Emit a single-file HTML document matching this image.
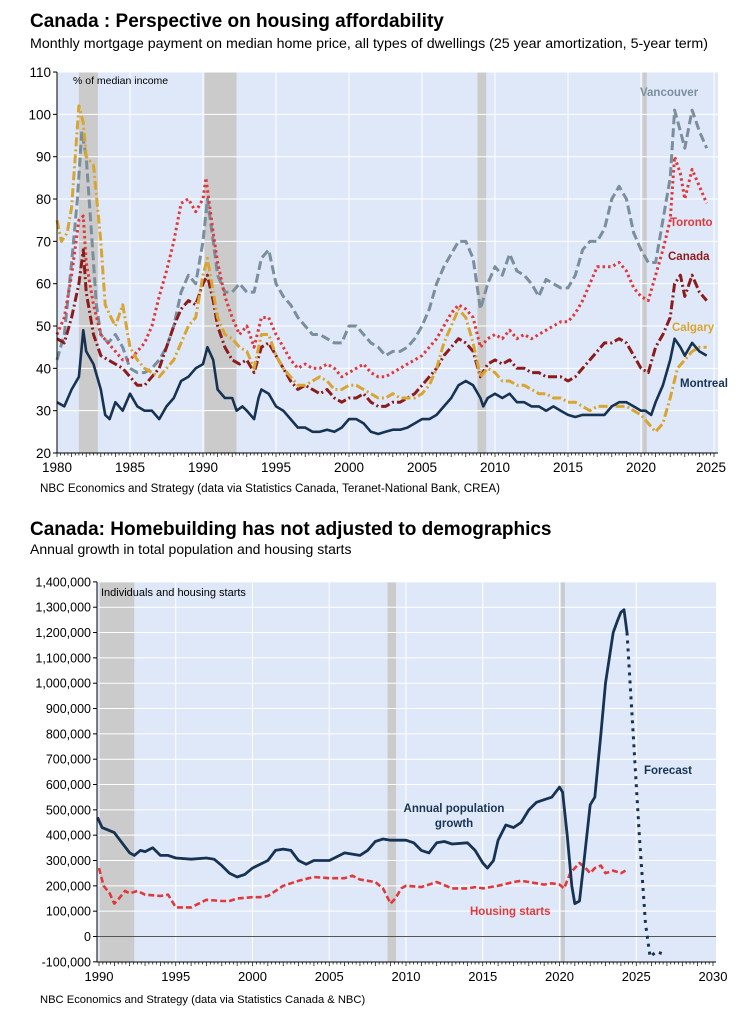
<!DOCTYPE html>
<html><head><meta charset="utf-8">
<style>
html,body{margin:0;padding:0;background:#fff;}
body{width:752px;height:1024px;overflow:hidden;font-family:"Liberation Sans",Arial,sans-serif;}
svg text{font-family:"Liberation Sans",Arial,sans-serif;}
</style></head><body>
<svg id="s" width="752" height="1024" xmlns="http://www.w3.org/2000/svg">
<text x="30" y="27" font-size="19" font-weight="bold" fill="#000">Canada : Perspective on housing affordability</text>
<text x="30" y="48" font-size="14" fill="#000" textLength="678" lengthAdjust="spacingAndGlyphs">Monthly mortgage payment on median home price, all types of dwellings (25 year amortization, 5-year term)</text>
<text x="30" y="535" font-size="19" font-weight="bold" fill="#000">Canada: Homebuilding has not adjusted to demographics</text>
<text x="30" y="554" font-size="14" fill="#000">Annual growth in total population and housing starts</text>
<text x="40" y="492" font-size="11.5" fill="#000" textLength="460" lengthAdjust="spacingAndGlyphs">NBC Economics and Strategy (data via Statistics Canada, Teranet-National Bank, CREA)</text>
<text x="40" y="1003" font-size="11.2" fill="#000">NBC Economics and Strategy (data via Statistics Canada &amp; NBC)</text>
<g id="c1"></g><g id="c2"></g>
</svg>
<script>
var NS="http://www.w3.org/2000/svg";
function el(p,t,a,txt){var e=document.createElementNS(NS,t);for(var k in a)e.setAttribute(k,a[k]);if(txt!=null)e.textContent=txt;p.appendChild(e);return e;}
function pts(arr){var o=[];for(var i=0;i<arr.length;i+=2)o.push([arr[i],arr[i+1]]);return o;}
function path(g,data,X,Y,st){var d="";data.forEach(function(p,i){d+=(i?"L":"M")+X(p[0]).toFixed(1)+","+Y(p[1]).toFixed(1);});
 var a={d:d,fill:"none","stroke-linejoin":"round"};for(var k in st)a[k]=st[k];el(g,"path",a);}
(function(){
var g=document.getElementById("c1");
var L=57,R=718,T=72,B=453;
var X=function(y){return 57+(y-1980)*14.6;};var Y=function(v){return 453-(v-20)*4.233;};
el(g,"rect",{x:L,y:T,width:R-L,height:B-T,fill:"#dfe8f8"});
[[1981.5,1982.8],[1990.1,1992.3],[2008.8,2009.4],[2020.1,2020.4]].forEach(function(r){el(g,"rect",{x:X(r[0]),y:T,width:X(r[1])-X(r[0]),height:B-T,fill:"#cbcbcb"});});
for(var v=30;v<=110;v+=10)el(g,"line",{x1:L,x2:R,y1:Y(v),y2:Y(v),stroke:"#fff","stroke-width":1});
for(var y=1985;y<=2025;y+=5)el(g,"line",{x1:X(y),x2:X(y),y1:T,y2:B,stroke:"#fff","stroke-width":1});
el(g,"text",{x:73,y:84,"font-size":"10.5",fill:"#000"},"% of median income");
var van=pts([1980,42,1980.5,48,1981,65,1981.4,80,1981.7,96,1982,90,1982.3,75,1982.7,55,1983,48,1983.5,46,1984,48,1984.5,45,1985,40,1985.5,39,1986,39,1986.5,40,1987,42,1987.5,45,1988,50,1988.5,58,1989,62,1989.5,60,1990,70,1990.3,80,1990.7,70,1991,62,1991.5,58,1992,58,1992.5,60,1993,58,1993.5,58,1994,66,1994.5,68,1995,60,1995.5,57,1996,55,1996.5,52,1997,50,1997.5,48,1998,48,1998.5,47,1999,46,1999.5,46,2000,50,2000.5,50,2001,48,2001.5,46,2002,45,2002.5,43,2003,44,2003.5,44,2004,45,2004.5,47,2005,50,2005.5,54,2006,60,2006.5,64,2007,67,2007.5,70,2008,70,2008.5,66,2009,54,2009.5,60,2010,64,2010.5,62,2011,67,2011.5,63,2012,62,2012.5,60,2013,57,2013.5,61,2014,60,2014.5,59,2015,59,2015.5,62,2016,68,2016.5,70,2017,70,2017.5,73,2018,80,2018.5,83,2019,80,2019.5,72,2020,68,2020.5,65,2021,65,2021.5,75,2022,85,2022.3,101,2022.7,96,2023,92,2023.5,101,2024,96,2024.5,92]);
var tor=pts([1980,48,1980.5,52,1981,62,1981.5,75,1981.8,76,1982,65,1982.5,55,1983,48,1983.5,46,1984,44,1984.5,42,1985,42,1985.5,44,1986,46,1986.5,50,1987,57,1987.5,63,1988,70,1988.5,79,1989,80,1989.5,77,1990,80,1990.2,85,1990.7,72,1991,65,1991.5,57,1992,52,1992.5,48,1993,50,1993.5,45,1994,52,1994.5,52,1995,48,1995.5,45,1996,42,1996.5,40,1997,41,1997.5,40,1998,40,1998.5,41,1999,40,1999.5,38,2000,39,2000.5,40,2001,41,2001.5,39,2002,38,2002.5,38,2003,39,2003.5,40,2004,41,2004.5,42,2005,43,2005.5,45,2006,47,2006.5,50,2007,53,2007.5,55,2008,54,2008.5,52,2009,45,2009.5,47,2010,48,2010.5,47,2011,49,2011.5,47,2012,48,2012.5,47,2013,48,2013.5,49,2014,50,2014.5,51,2015,51,2015.5,53,2016,56,2016.5,60,2017,64,2017.5,64,2018,64,2018.5,65,2019,63,2019.5,59,2020,57,2020.5,56,2021,62,2021.5,68,2022,75,2022.3,90,2022.7,86,2023,80,2023.5,87,2024,83,2024.5,79]);
var can=pts([1980,47,1980.5,46,1981,52,1981.5,60,1981.8,68,1982,58,1982.5,48,1983,43,1983.5,42,1984,41,1984.5,40,1985,38,1985.5,36,1986,36,1986.5,38,1987,40,1987.5,45,1988,50,1988.5,54,1989,56,1989.5,55,1990,60,1990.3,62,1990.7,56,1991,50,1991.5,45,1992,42,1992.5,41,1993,42,1993.5,39,1994,45,1994.5,46,1995,43,1995.5,40,1996,37,1996.5,35,1997,36,1997.5,35,1998,34,1998.5,35,1999,33,1999.5,32,2000,33,2000.5,33,2001,34,2001.5,32,2002,31,2002.5,31,2003,32,2003.5,32,2004,33,2004.5,34,2005,36,2005.5,38,2006,40,2006.5,43,2007,45,2007.5,47,2008,46,2008.5,44,2009,38,2009.5,41,2010,42,2010.5,41,2011,42,2011.5,40,2012,40,2012.5,39,2013,39,2013.5,38,2014,38,2014.5,38,2015,37,2015.5,38,2016,40,2016.5,42,2017,44,2017.5,46,2018,46,2018.5,47,2019,46,2019.5,43,2020,40,2020.5,39,2021,45,2021.5,48,2022,52,2022.3,60,2022.7,62,2023,57,2023.5,62,2024,58,2024.5,56]);
var cal=pts([1980,75,1980.3,70,1980.7,72,1981,78,1981.5,102,1981.8,98,1982,90,1982.5,88,1983,70,1983.3,55,1983.7,52,1984,50,1984.5,55,1985,45,1985.5,42,1986,40,1986.5,39,1987,38,1987.5,40,1988,42,1988.5,46,1989,50,1989.5,52,1990,62,1990.3,66,1990.7,58,1991,52,1991.5,48,1992,47,1992.5,45,1993,44,1993.5,40,1994,48,1994.5,48,1995,43,1995.5,40,1996,38,1996.5,36,1997,36,1997.5,37,1998,38,1998.5,37,1999,35,1999.5,35,2000,36,2000.5,36,2001,35,2001.5,34,2002,33,2002.5,33,2003,34,2003.5,33,2004,33,2004.5,33,2005,34,2005.5,36,2006,40,2006.5,46,2007,50,2007.5,54,2008,52,2008.5,46,2009,38,2009.5,40,2010,39,2010.5,37,2011,37,2011.5,36,2012,36,2012.5,35,2013,34,2013.5,34,2014,33,2014.5,33,2015,32,2015.5,32,2016,31,2016.5,30,2017,31,2017.5,31,2018,31,2018.5,31,2019,31,2019.5,30,2020,29,2020.5,27,2021,25,2021.5,27,2022,33,2022.5,40,2023,42,2023.5,44,2024,45,2024.5,45]);
var mon=pts([1980,32,1980.5,31,1981,35,1981.5,38,1981.8,49,1982,44,1982.5,41,1983,35,1983.3,29,1983.6,28,1984,32,1984.5,30,1985,34,1985.5,31,1986,30,1986.5,30,1987,28,1987.5,31,1988,33,1988.5,37,1989,38,1989.5,40,1990,41,1990.3,45,1990.7,42,1991,35,1991.5,33,1992,33,1992.3,30,1992.7,31,1993,30,1993.5,28,1993.8,33,1994,35,1994.5,34,1995,31,1995.5,30,1996,28,1996.5,26,1997,26,1997.5,25,1998,25,1998.5,25.5,1999,25,1999.5,26,2000,28,2000.5,28,2001,27,2001.5,25,2002,24.5,2002.5,25,2003,25.5,2003.5,25.5,2004,26,2004.5,27,2005,28,2005.5,28,2006,29,2006.5,31,2007,33,2007.5,36,2008,37,2008.5,36,2009,33,2009.2,31,2009.5,33,2010,34,2010.5,33,2011,34,2011.5,32,2012,32,2012.5,31,2013,31,2013.5,30,2014,31,2014.5,30,2015,29,2015.5,28.5,2016,29,2016.5,29,2017,29,2017.5,29,2018,31,2018.5,32,2019,32,2019.5,31,2020,30,2020.3,30,2020.7,29,2021,32,2021.5,36,2022,42,2022.3,47,2022.7,45,2023,43,2023.5,46,2024,44,2024.5,43]);
path(g,van,X,Y,{stroke:"#7a8e9e","stroke-width":3,"stroke-dasharray":"9,4"});
path(g,tor,X,Y,{stroke:"#e0393b","stroke-width":3,"stroke-dasharray":"2.5,3"});
path(g,can,X,Y,{stroke:"#8c1c1c","stroke-width":3,"stroke-dasharray":"9,3,2,3"});
path(g,cal,X,Y,{stroke:"#d9a531","stroke-width":3,"stroke-dasharray":"9,3,2,3"});
path(g,mon,X,Y,{stroke:"#163353","stroke-width":2.6});
el(g,"line",{x1:L,x2:L,y1:T,y2:B,stroke:"#000","stroke-width":1});
el(g,"line",{x1:L,x2:R,y1:B,y2:B,stroke:"#000","stroke-width":1});
for(var v=20;v<=110;v+=10){el(g,"line",{x1:L-4,x2:L,y1:Y(v),y2:Y(v),stroke:"#000"});el(g,"text",{x:L-6,y:Y(v)+5,"font-size":"13.5","text-anchor":"end"},String(v));}
for(var q=1980;q<=2025.01;q+=0.25){var maj=Math.abs(q-Math.round(q))<0.01;el(g,"line",{x1:X(q),x2:X(q),y1:B,y2:B+(maj?4:2.5),stroke:"#000","stroke-width":0.7});}
for(var y=1980;y<=2025;y+=5)el(g,"text",{x:X(y)-(y==2025?3:0),y:472,"font-size":"13.5","text-anchor":"middle"},String(y));
el(g,"text",{x:640,y:96,"font-size":"11.5","font-weight":"bold",fill:"#7a8e9e"},"Vancouver");
el(g,"text",{x:670,y:226,"font-size":"11.5","font-weight":"bold",fill:"#e0393b"},"Toronto");
el(g,"text",{x:668,y:260,"font-size":"11.5","font-weight":"bold",fill:"#8c1c1c"},"Canada");
el(g,"text",{x:672,y:331,"font-size":"11.5","font-weight":"bold",fill:"#d9a531"},"Calgary");
el(g,"text",{x:680,y:387,"font-size":"11.5","font-weight":"bold",fill:"#163353"},"Montreal");
})();
(function(){
var g=document.getElementById("c2");
var L=97,R=716,T=582,B=962;
var X=function(y){return 99+(y-1990)*15.35;};var Y=function(v){return 936.5-v/100000*25.33;};
el(g,"rect",{x:L,y:T,width:R-L,height:B-T,fill:"#dfe8f8"});
[[1990.05,1992.3],[2008.8,2009.35],[2020.1,2020.35]].forEach(function(r){el(g,"rect",{x:X(r[0]),y:T,width:X(r[1])-X(r[0]),height:B-T,fill:"#cbcbcb"});});
for(var v=-100000;v<=1400000;v+=100000)if(v!=0)el(g,"line",{x1:L,x2:R,y1:Y(v),y2:Y(v),stroke:"#fff"});
for(var y=1995;y<=2025;y+=5)el(g,"line",{x1:X(y),x2:X(y),y1:T,y2:B,stroke:"#fff"});
el(g,"line",{x1:L,x2:R,y1:Y(0),y2:Y(0),stroke:"#555","stroke-width":1});
el(g,"text",{x:101,y:596,"font-size":"11",fill:"#000"},"Individuals and housing starts");
var pop=pts([1989.9,470,1990.2,430,1991,410,1991.5,370,1992,330,1992.3,320,1992.7,340,1993,335,1993.5,350,1994,320,1994.5,320,1995,310,1996,305,1997,310,1997.5,305,1998,280,1998.5,250,1999,235,1999.5,245,2000,270,2001,300,2001.5,340,2002,345,2002.5,340,2003,300,2003.5,285,2004,300,2005,300,2005.5,315,2006,330,2007,320,2007.5,340,2008,375,2008.5,385,2009,380,2010,380,2010.5,370,2011,340,2011.5,330,2012,370,2012.5,375,2013,365,2014,370,2014.5,340,2015,290,2015.3,270,2015.7,300,2016,380,2016.5,440,2017,430,2017.5,450,2018,500,2018.5,530,2019,540,2019.5,550,2020,590,2020.2,570,2020.5,400,2020.8,200,2021,130,2021.3,140,2021.6,300,2022,520,2022.3,550,2022.7,800,2023,1000,2023.5,1200,2023.8,1250,2024,1280,2024.2,1290,2024.4,1200]).map(function(p){return [p[0],p[1]*1000];});
var fc=pts([2024.4,1200,2024.8,800,2025.2,400,2025.6,50,2025.9,-80,2026.3,-60,2026.8,-70]).map(function(p){return [p[0],p[1]*1000];});
var hs=pts([1990,270,1990.3,200,1990.7,170,1991,130,1991.3,150,1991.7,180,1992,170,1992.5,180,1993,165,1994,160,1994.5,165,1995,115,1996,115,1996.5,130,1997,145,1998,140,1998.5,140,1999,150,2000,155,2000.5,155,2001,160,2002,200,2002.5,210,2003,220,2004,235,2005,230,2006,230,2006.5,240,2007,225,2007.5,220,2008,215,2008.5,190,2009,130,2009.3,150,2009.7,190,2010,200,2011,195,2012,215,2013,190,2014,190,2014.5,195,2015,190,2016,200,2017,215,2017.5,220,2018,215,2019,205,2019.5,210,2020,205,2020.3,190,2020.7,250,2021,270,2021.3,290,2021.7,270,2022,250,2022.3,270,2022.7,280,2023,250,2023.5,260,2024,250,2024.3,260]).map(function(p){return [p[0],p[1]*1000];});
path(g,hs,X,Y,{stroke:"#e0393b","stroke-width":2.6,"stroke-dasharray":"6,3"});
path(g,pop,X,Y,{stroke:"#163353","stroke-width":2.8});
path(g,fc,X,Y,{stroke:"#163353","stroke-width":3,"stroke-dasharray":"3,5"});
el(g,"line",{x1:L,x2:L,y1:T,y2:B,stroke:"#000"});
el(g,"line",{x1:L,x2:R,y1:B,y2:B,stroke:"#000"});
for(var v=-100000;v<=1400000;v+=100000){el(g,"line",{x1:L-4,x2:L,y1:Y(v),y2:Y(v),stroke:"#000"});
 el(g,"text",{x:L-6,y:Y(v)+4.5,"font-size":"12.5","text-anchor":"end"},v.toLocaleString("en-US"));}
for(var q=1990;q<=2030.01;q+=0.25){var maj=Math.abs(q-Math.round(q))<0.01;el(g,"line",{x1:X(q),x2:X(q),y1:B,y2:B+(maj?4:2.5),stroke:"#000","stroke-width":0.7});}
for(var y=1990;y<=2030;y+=5)el(g,"text",{x:X(y),y:981,"font-size":"13","text-anchor":"middle"},String(y));
el(g,"text",{x:454,y:812,"font-size":"11.5","font-weight":"bold",fill:"#163353","text-anchor":"middle"},"Annual population");
el(g,"text",{x:454,y:827,"font-size":"11.5","font-weight":"bold",fill:"#163353","text-anchor":"middle"},"growth");
el(g,"text",{x:470,y:915,"font-size":"11.5","font-weight":"bold",fill:"#e0393b"},"Housing starts");
el(g,"text",{x:644,y:774,"font-size":"11.5","font-weight":"bold",fill:"#163353"},"Forecast");
})();
</script>
</body></html>
